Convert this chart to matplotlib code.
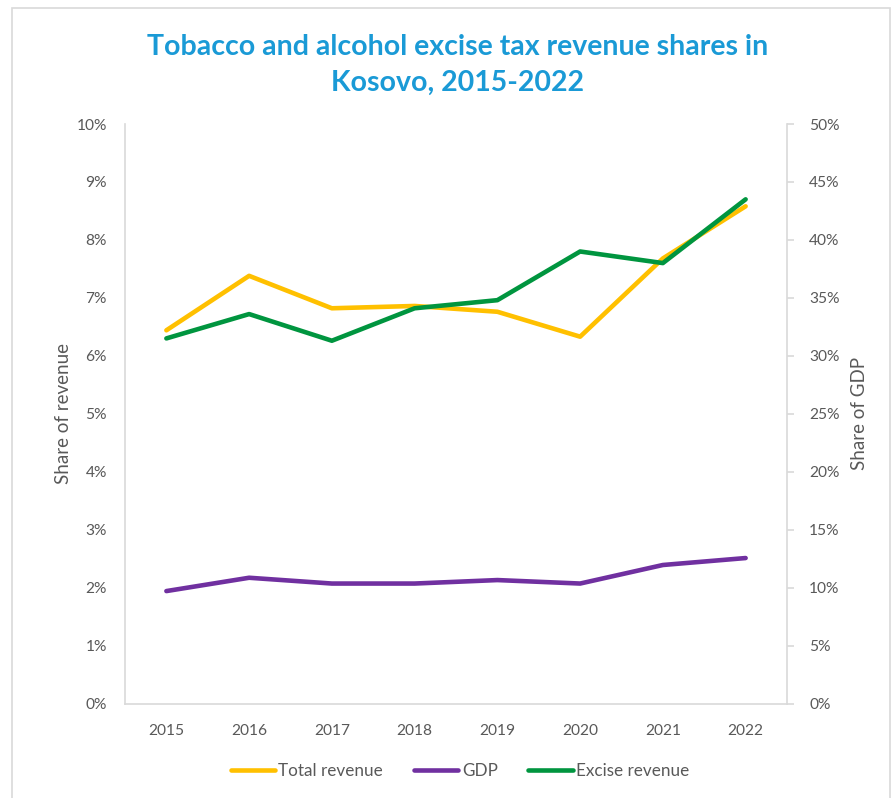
import matplotlib.pyplot as plt
from matplotlib.patches import Rectangle

plt.rcParams["font.family"] = ["Lato", "DejaVu Sans"]

# tobacco and alcohol excise, 2015-2022
years = ["2015", "2016", "2017", "2018", "2019", "2020", "2021", "2022"]
total_revenue = [6.44, 7.38, 6.82, 6.86, 6.76, 6.33, 7.68, 8.58]   # % of revenue
gdp = [1.94, 2.17, 2.07, 2.07, 2.13, 2.07, 2.39, 2.51]             # % of GDP
excise_revenue = [31.5, 33.6, 31.3, 34.1, 34.8, 39.0, 38.0, 43.5]  # % of excise revenue

yellow = "#FFC000"
purple = "#7030A0"
green = "#00953F"
grey = "#595959"
spine_c = "#D9D9D9"

fig = plt.figure(figsize=(8.95, 7.98), dpi=100)
fig.patches.append(Rectangle((12 / 895, -0.05), 878 / 895, 1.05 - 8 / 798,
                             transform=fig.transFigure, fill=False,
                             edgecolor="#D9D9D9", linewidth=1.2))

ax = fig.add_axes([125 / 895, 1 - 703.5 / 798, 662 / 895, 579.5 / 798])
ax2 = ax.twinx()

x = range(len(years))
l1, = ax.plot(x, total_revenue, color=yellow, lw=3.3, label="Total revenue",
              solid_capstyle="round")
l2, = ax.plot(x, gdp, color=purple, lw=3.3, label="GDP", solid_capstyle="round")
l3, = ax2.plot(x, excise_revenue, color=green, lw=3.3, label="Excise revenue",
               solid_capstyle="round")

ax.set_xlim(-0.5, len(years) - 0.5)
ax.set_ylim(0, 10)
ax2.set_ylim(0, 50)
ax.set_xticks(list(x))
ax.set_xticklabels(years)
ax.set_yticks(range(0, 11))
ax.set_yticklabels([f"{v}%" for v in range(0, 11)])
ax2.set_yticks(range(0, 51, 5))
ax2.set_yticklabels([f"{v}%" for v in range(0, 51, 5)])

for a in (ax, ax2):
    for s in a.spines.values():
        s.set_color(spine_c)
        s.set_linewidth(1.2)
    a.spines["top"].set_visible(False)
ax.spines["right"].set_visible(False)
ax2.spines["left"].set_visible(False)
ax2.spines["bottom"].set_visible(False)

ax.tick_params(axis="y", length=0, pad=13, labelsize=11.2, labelcolor=grey)
ax.tick_params(axis="x", length=0, pad=15, labelsize=11.2, labelcolor=grey)
ax2.tick_params(axis="y", length=5, width=1.2, color=spine_c, pad=11,
                labelsize=11.2, labelcolor=grey)

ax.set_ylabel("Share of revenue", fontsize=13.5, color=grey, labelpad=3)
ax2.set_ylabel("Share of GDP", fontsize=13.5, color=grey, labelpad=8)

fig.text(0.511, 0.919, "Tobacco and alcohol excise tax revenue shares in\nKosovo, 2015-2022",
         ha="center", va="center", fontsize=20.5, fontweight="bold",
         color="#1A9AD6", linespacing=1.45)

fig.legend(handles=[l1, l2, l3], loc="center", bbox_to_anchor=(0.514, 1 - 771 / 798),
           ncol=3, frameon=False, fontsize=12.3, labelcolor=grey,
           handlelength=2.6, handletextpad=0.2, columnspacing=1.8)

fig.savefig("out.png", dpi=100)
